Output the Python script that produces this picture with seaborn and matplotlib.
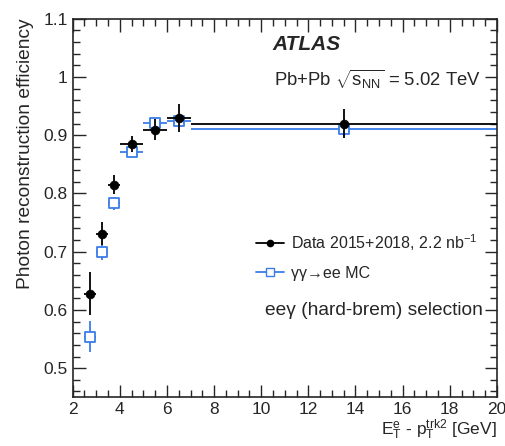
import seaborn as sns
import pandas as pd
import matplotlib
matplotlib.use("Agg")
import matplotlib.pyplot as plt
from matplotlib.lines import Line2D
from matplotlib.ticker import MultipleLocator

# bins in E_T^e - p_T^trk2 [GeV]
bin_lo = [2.5, 3.0, 3.5, 4.0, 5.0, 6.0, 7.0]
bin_hi = [3.0, 3.5, 4.0, 5.0, 6.0, 7.0, 20.0]

data_eff = [0.628, 0.731, 0.815, 0.885, 0.909, 0.929, 0.920]
data_err = [0.037, 0.020, 0.016, 0.013, 0.018, 0.024, 0.025]

mc_eff = [0.554, 0.700, 0.783, 0.872, 0.921, 0.925, 0.910]
mc_err = [0.027, 0.014, 0.011, 0.007, 0.008, 0.006, 0.012]

blue = '#3a7de8'

sns.set_style("ticks")
plt.rcParams['font.family'] = ['Liberation Sans', 'DejaVu Sans']
plt.rcParams['mathtext.fontset'] = 'custom'
plt.rcParams['mathtext.rm'] = 'Liberation Sans'
plt.rcParams['mathtext.it'] = 'Liberation Sans'
plt.rcParams['mathtext.default'] = 'regular'

df = pd.DataFrame({'lo': bin_lo, 'hi': bin_hi, 'data': data_eff, 'derr': data_err,
                   'mc': mc_eff, 'mcerr': mc_err})
df['x'] = (df['lo'] + df['hi']) / 2
df['xerr'] = (df['hi'] - df['lo']) / 2

fig, ax = plt.subplots(figsize=(5.06, 4.46), dpi=100)
fig.subplots_adjust(left=0.1437, right=0.982, top=0.958, bottom=0.1092)

ax.errorbar(df['x'], df['mc'], xerr=df['xerr'], yerr=df['mcerr'], fmt='none',
            ecolor=blue, elinewidth=1.3, capsize=0, zorder=2)
sns.scatterplot(x='x', y='mc', data=df, marker='s', s=45, facecolor='white',
                edgecolor=blue, linewidth=1.3, ax=ax, zorder=3)
ax.errorbar(df['x'], df['data'], xerr=df['xerr'], yerr=df['derr'], fmt='none',
            ecolor='black', elinewidth=1.3, capsize=0, zorder=4)
sns.scatterplot(x='x', y='data', data=df, marker='o', s=40, color='black',
                edgecolor='black', ax=ax, zorder=5)

ax.set_xlim(2, 20)
ax.set_ylim(0.45, 1.1)
ax.xaxis.set_major_locator(MultipleLocator(2))
ax.xaxis.set_minor_locator(MultipleLocator(0.5))
ax.yaxis.set_major_locator(MultipleLocator(0.1))
ax.yaxis.set_minor_locator(MultipleLocator(0.02))
ax.set_yticks([0.5, 0.6, 0.7, 0.8, 0.9, 1.0, 1.1])
ax.set_yticklabels(['0.5', '0.6', '0.7', '0.8', '0.9', '1', '1.1'])
ax.tick_params(which='both', direction='in', top=True, right=True, labelsize=12.5)
ax.tick_params(which='major', length=9, width=1)
ax.tick_params(which='minor', length=5, width=1)
for s in ax.spines.values():
    s.set_linewidth(1.2)

ax.set_xlabel(r'$E_{T}^{e}$ - $p_{T}^{trk2}$ [GeV]', loc='right', fontsize=12.5, labelpad=0)
ax.set_ylabel('Photon reconstruction efficiency', loc='top', fontsize=13.8, labelpad=7)

ax.text(0.47, 0.933, 'ATLAS', transform=ax.transAxes, fontsize=15,
        fontweight='bold', fontstyle='italic', va='center', ha='left')
ax.text(0.962, 0.841, r'Pb+Pb $\sqrt{s_{NN}}$ = 5.02 TeV', transform=ax.transAxes,
        fontsize=13.3, va='center', ha='right')
ax.text(0.967, 0.228, 'ee\u03b3 (hard-brem) selection', transform=ax.transAxes,
        fontsize=13.8, va='center', ha='right')

handles = [
    Line2D([], [], color='black', marker='o', markersize=4.5, lw=1.3),
    Line2D([], [], color=blue, marker='s', markersize=5.5, markerfacecolor='white', lw=1.3),
]
labels = [r'Data 2015+2018, 2.2 nb$^{-1}$', '\u03b3\u03b3\u2192ee MC']
ax.legend(handles, labels, loc='center left', bbox_to_anchor=(0.398, 0.372),
          frameon=False, fontsize=11.5, handlelength=1.75, handletextpad=0.45,
          labelspacing=0.8)

fig.savefig('out.png', dpi=100)
